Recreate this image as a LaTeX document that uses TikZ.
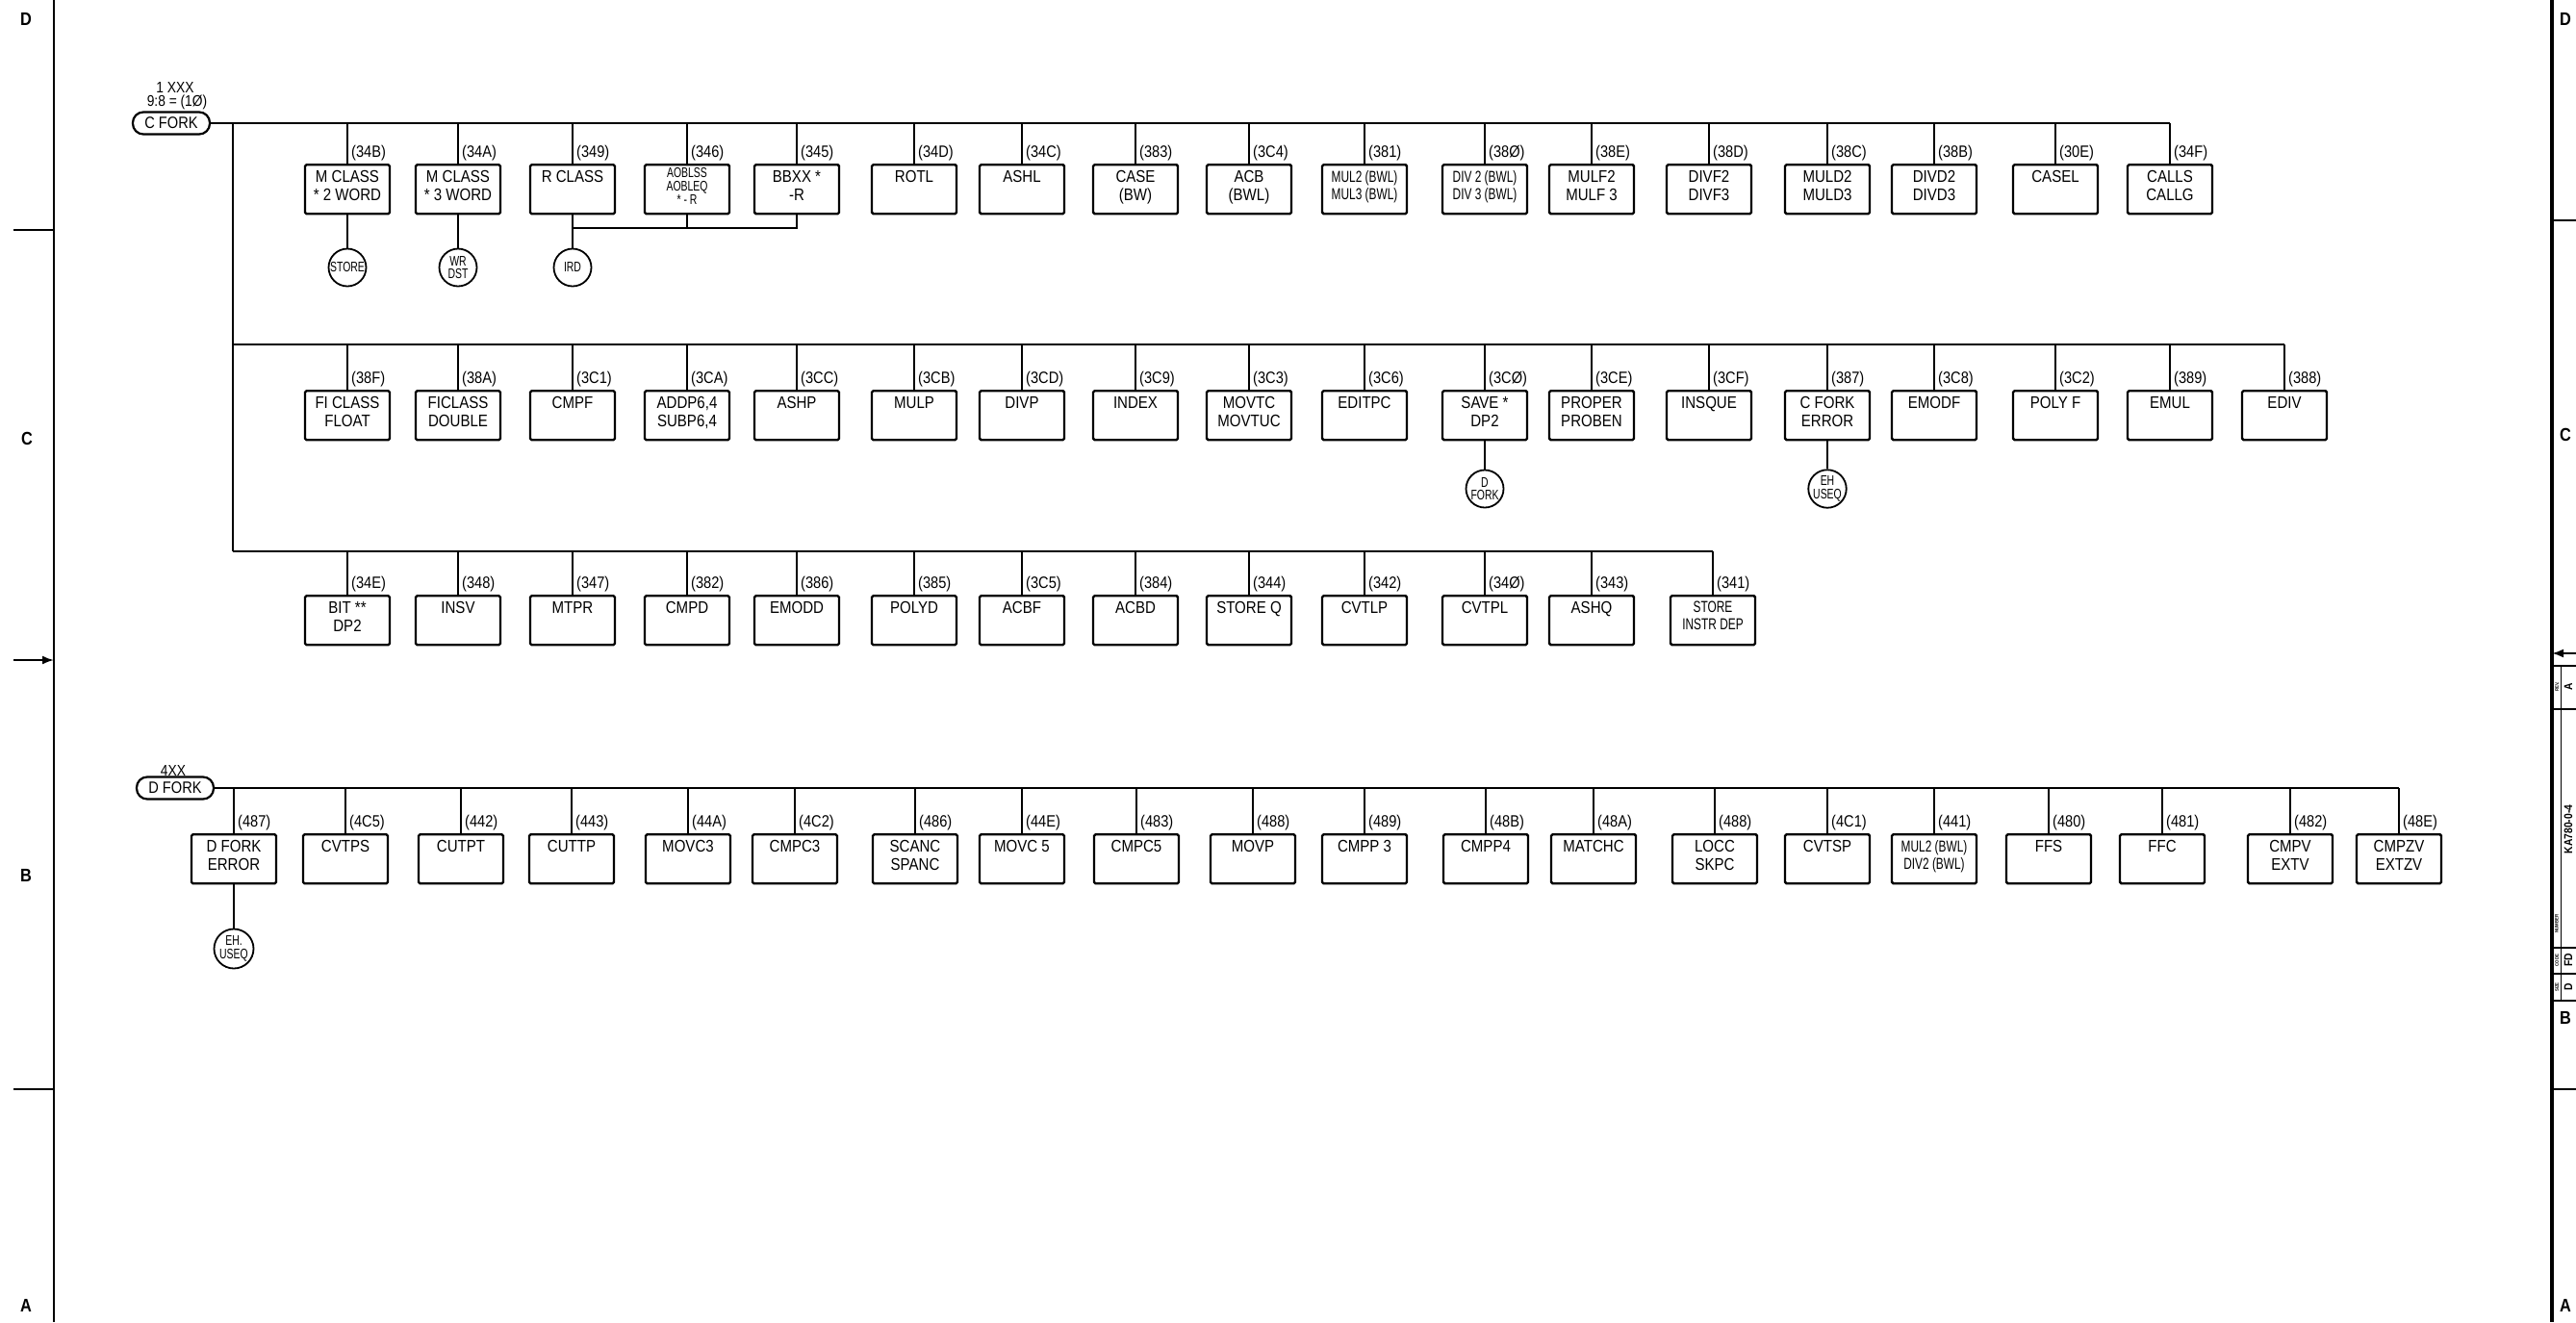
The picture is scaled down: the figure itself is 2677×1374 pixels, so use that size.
\documentclass[tikz,border=0pt]{standalone}
\usepackage{fontspec}
\setmainfont{Liberation Sans}[FakeStretch=0.86]
\newfontfamily\narrowfont{Liberation Sans}[FakeStretch=0.72]
\usetikzlibrary{arrows.meta}
\tikzset{
  ibox/.style={draw, line width=2.4pt, minimum width=88pt, minimum height=51pt, inner sep=0pt, rounded corners=1.5pt},
  itext/.style={anchor=north, align=center, font=\fontsize{17.5}{19}\selectfont, inner sep=0pt},
  ismall/.style={font=\narrowfont\fontsize{16.5}{18}\selectfont},
  itiny/.style={font=\narrowfont\fontsize{14.5}{14}\selectfont},
  ilab/.style={anchor=south west, font=\fontsize{17}{18}\selectfont, inner sep=0pt},
  dropline/.style={line width=1.7pt},
  busline/.style={line width=2.8pt},
  term/.style={draw, circle, line width=1.8pt, minimum size=39pt, inner sep=0pt, align=center, font=\narrowfont\fontsize{14.5}{13.5}\selectfont},
  fork/.style={draw, rounded corners=11pt, line width=2.2pt, minimum width=80pt, minimum height=23pt, inner sep=0pt, font=\fontsize{17}{16}\selectfont},
  frame/.style={line width=2pt},
  gridletter/.style={font=\fontsize{19}{19}\selectfont\bfseries, inner sep=0pt},
  tbcap/.style={font=\fontsize{5}{5}\selectfont\bfseries, inner sep=0pt, rotate=90},
  tbtext/.style={font=\fontsize{12}{12}\selectfont\bfseries, inner sep=0pt, rotate=90},
}
% #1 name, #2 x, #3 top, #4 bus coordinate, #5 label, #6 text, #7 extra text style
\newcommand\opbox[7]{%
  \node[ibox, anchor=north] (#1) at (#2,#3) {};
  \node[itext,#7] (#1t) at ([yshift=-7pt]#1.north) {#6};
  \node[ilab] (#1l) at ([xshift=4pt,yshift=3pt]#1.north) {#5};
  \draw[dropline] (#1.north) -- (#1.north |- #4);
}
\begin{document}
\begin{tikzpicture}[x=1pt,y=-1pt]
\useasboundingbox (0,0) rectangle (2677,1374);
% ---- frame ----
\draw[frame] (56,0) -- (56,1374);
\draw[line width=3.5pt] (2652,0) -- (2652,1374);
\draw[frame] (14,239) -- (56,239);
\draw[frame] (14,1132) -- (56,1132);
\draw[frame,-{Latex[length=12pt,width=9pt]}] (14,686) -- (56,686);
\draw[frame] (2652,229) -- (2677,229);
\draw[frame] (2652,1132) -- (2677,1132);
\draw[frame,-{Latex[length=12pt,width=9pt]}] (2677,679) -- (2652,679);
\node[gridletter] (lD) at (27,20) {D};
\node[gridletter] (lC) at (28,456) {C};
\node[gridletter] (lB) at (27,910) {B};
\node[gridletter] (lA) at (27,1357) {A};
\node[gridletter] (rD) at (2666,20) {D};
\node[gridletter] (rC) at (2666,452) {C};
\node[gridletter] (rB) at (2666,1058) {B};
\node[gridletter] (rA) at (2666,1357) {A};
% title block
\draw[frame] (2652,692) -- (2677,692);
\draw[frame] (2652,737) -- (2677,737);
\draw[frame] (2652,985) -- (2677,985);
\draw[frame] (2652,1012) -- (2677,1012);
\draw[frame] (2652,1040) -- (2677,1040);
\draw[line width=1pt] (2661,692) -- (2661,1040);
\node[tbcap] (tbrev) at (2657,714) {REV.};
\node[tbtext] (tbreva) at (2669,714) {A};
\node[tbcap] (tbnum) at (2657,960) {NUMBER};
\node[tbtext] (tbnumt) at (2669,862) {KA780-0-4};
\node[tbcap] (tbcode) at (2657,998) {CODE};
\node[tbtext] (tbcodet) at (2669,998) {FD};
\node[tbcap] (tbsize) at (2657,1026) {SIZE};
\node[tbtext] (tbsizet) at (2669,1026) {D};

% ---- C FORK tree ----
\node[fork] (cfork) at (178,128) {C FORK};
\node[font=\fontsize{16}{16}\selectfont, inner sep=0pt] (h1) at (182,91) {1 XXX};
\node[font=\fontsize{16}{16}\selectfont, inner sep=0pt] (h2) at (184,106) {9:8 = (1Ø)};
\coordinate (bus1) at (242,123);
\coordinate (bus1e) at (2255,120);
\draw[busline] (cfork.east) -- (bus1e |- cfork.east);
\coordinate (bus2) at (242,358);
\coordinate (bus3) at (242,573);
\draw[busline] (bus1 |- cfork.east) -- (bus3);
\draw[busline] (bus2) -- (2374,358);
\draw[busline] (bus3) -- (1780,573);

% row 1
\opbox{a1}{361}{170}{cfork.east}{(34B)}{M CLASS\\* 2 WORD}{}
\opbox{a2}{476}{170}{cfork.east}{(34A)}{M CLASS\\* 3 WORD}{}
\opbox{a3}{595}{170}{cfork.east}{(349)}{R CLASS}{}
\opbox{a4}{714}{170}{cfork.east}{(346)}{AOBLSS\\AOBLEQ\\* - R}{itiny, yshift=3pt}
\opbox{a5}{828}{170}{cfork.east}{(345)}{BBXX *\\-R}{}
\opbox{a6}{950}{170}{cfork.east}{(34D)}{ROTL}{}
\opbox{a7}{1062}{170}{cfork.east}{(34C)}{ASHL}{}
\opbox{a8}{1180}{170}{cfork.east}{(383)}{CASE\\(BW)}{}
\opbox{a9}{1298}{170}{cfork.east}{(3C4)}{ACB\\(BWL)}{}
\opbox{a10}{1418}{170}{cfork.east}{(381)}{MUL2 (BWL)\\MUL3 (BWL)}{ismall}
\opbox{a11}{1543}{170}{cfork.east}{(38Ø)}{DIV 2 (BWL)\\DIV 3 (BWL)}{ismall}
\opbox{a12}{1654}{170}{cfork.east}{(38E)}{MULF2\\MULF 3}{}
\opbox{a13}{1776}{170}{cfork.east}{(38D)}{DIVF2\\DIVF3}{}
\opbox{a14}{1899}{170}{cfork.east}{(38C)}{MULD2\\MULD3}{}
\opbox{a15}{2010}{170}{cfork.east}{(38B)}{DIVD2\\DIVD3}{}
\opbox{a16}{2136}{170}{cfork.east}{(30E)}{CASEL}{}
\opbox{a17}{2255}{170}{cfork.east}{(34F)}{CALLS\\CALLG}{}

\node[term] (store) at (361,278) {STORE};
\node[term] (wrdst) at (476,278) {WR\\DST};
\node[term] (ird) at (595,278) {IRD};
\draw[dropline] (a1.south) -- (store.north);
\draw[dropline] (a2.south) -- (wrdst.north);
\draw[dropline] (a3.south) -- (ird.north);
\coordinate (j1) at (595,237);
\coordinate (j2) at (828,237);
\draw[dropline] (a4.south) -- (a4.south |- j1);
\draw[dropline] (a5.south) -- (j2) -- (j1);

% row 2
\opbox{b1}{361}{405}{bus2}{(38F)}{FI CLASS\\FLOAT}{}
\opbox{b2}{476}{405}{bus2}{(38A)}{FICLASS\\DOUBLE}{}
\opbox{b3}{595}{405}{bus2}{(3C1)}{CMPF}{}
\opbox{b4}{714}{405}{bus2}{(3CA)}{ADDP6,4\\SUBP6,4}{}
\opbox{b5}{828}{405}{bus2}{(3CC)}{ASHP}{}
\opbox{b6}{950}{405}{bus2}{(3CB)}{MULP}{}
\opbox{b7}{1062}{405}{bus2}{(3CD)}{DIVP}{}
\opbox{b8}{1180}{405}{bus2}{(3C9)}{INDEX}{}
\opbox{b9}{1298}{405}{bus2}{(3C3)}{MOVTC\\MOVTUC}{}
\opbox{b10}{1418}{405}{bus2}{(3C6)}{EDITPC}{}
\opbox{b11}{1543}{405}{bus2}{(3CØ)}{SAVE *\\DP2}{}
\opbox{b12}{1654}{405}{bus2}{(3CE)}{PROPER\\PROBEN}{}
\opbox{b13}{1776}{405}{bus2}{(3CF)}{INSQUE}{}
\opbox{b14}{1899}{405}{bus2}{(387)}{C FORK\\ERROR}{}
\opbox{b15}{2010}{405}{bus2}{(3C8)}{EMODF}{}
\opbox{b16}{2136}{405}{bus2}{(3C2)}{POLY F}{}
\opbox{b17}{2255}{405}{bus2}{(389)}{EMUL}{}
\opbox{b18}{2374}{405}{bus2}{(388)}{EDIV}{}

\node[term] (dfk) at (1543,508) {D\\FORK};
\node[term] (ehu1) at (1899,508) {EH\\USEQ};
\draw[dropline] (b11.south) -- (dfk.north);
\draw[dropline] (b14.south) -- (ehu1.north);

% row 3
\opbox{c1}{361}{618}{bus3}{(34E)}{BIT **\\DP2}{}
\opbox{c2}{476}{618}{bus3}{(348)}{INSV}{}
\opbox{c3}{595}{618}{bus3}{(347)}{MTPR}{}
\opbox{c4}{714}{618}{bus3}{(382)}{CMPD}{}
\opbox{c5}{828}{618}{bus3}{(386)}{EMODD}{}
\opbox{c6}{950}{618}{bus3}{(385)}{POLYD}{}
\opbox{c7}{1062}{618}{bus3}{(3C5)}{ACBF}{}
\opbox{c8}{1180}{618}{bus3}{(384)}{ACBD}{}
\opbox{c9}{1298}{618}{bus3}{(344)}{STORE Q}{}
\opbox{c10}{1418}{618}{bus3}{(342)}{CVTLP}{}
\opbox{c11}{1543}{618}{bus3}{(34Ø)}{CVTPL}{}
\opbox{c12}{1654}{618}{bus3}{(343)}{ASHQ}{}
\opbox{c13}{1780}{618}{bus3}{(341)}{STORE\\INSTR DEP}{ismall}

% ---- D FORK tree ----
\node[fork] (dfork) at (182,819) {D FORK};
\node[font=\fontsize{16}{16}\selectfont, inner sep=0pt] (h3) at (180,801) {4XX};
\coordinate (bus4e) at (2493,815);
\draw[busline] (dfork.east) -- (bus4e |- dfork.east);
\opbox{d0}{243}{866}{dfork.east}{(487)}{D FORK\\ERROR}{}
\opbox{d1}{359}{866}{dfork.east}{(4C5)}{CVTPS}{}
\opbox{d2}{479}{866}{dfork.east}{(442)}{CUTPT}{}
\opbox{d3}{594}{866}{dfork.east}{(443)}{CUTTP}{}
\opbox{d4}{715}{866}{dfork.east}{(44A)}{MOVC3}{}
\opbox{d5}{826}{866}{dfork.east}{(4C2)}{CMPC3}{}
\opbox{d6}{951}{866}{dfork.east}{(486)}{SCANC\\SPANC}{}
\opbox{d7}{1062}{866}{dfork.east}{(44E)}{MOVC 5}{}
\opbox{d8}{1181}{866}{dfork.east}{(483)}{CMPC5}{}
\opbox{d9}{1302}{866}{dfork.east}{(488)}{MOVP}{}
\opbox{d10}{1418}{866}{dfork.east}{(489)}{CMPP 3}{}
\opbox{d11}{1544}{866}{dfork.east}{(48B)}{CMPP4}{}
\opbox{d12}{1656}{866}{dfork.east}{(48A)}{MATCHC}{}
\opbox{d13}{1782}{866}{dfork.east}{(488)}{LOCC\\SKPC}{}
\opbox{d14}{1899}{866}{dfork.east}{(4C1)}{CVTSP}{}
\opbox{d15}{2010}{866}{dfork.east}{(441)}{MUL2 (BWL)\\DIV2 (BWL)}{ismall}
\opbox{d16}{2129}{866}{dfork.east}{(480)}{FFS}{}
\opbox{d17}{2247}{866}{dfork.east}{(481)}{FFC}{}
\opbox{d18}{2380}{866}{dfork.east}{(482)}{CMPV\\EXTV}{}
\opbox{d19}{2493}{866}{dfork.east}{(48E)}{CMPZV\\EXTZV}{}

\node[term, minimum size=41pt] (ehu2) at (243,986) {EH.\\USEQ};
\draw[dropline] (d0.south) -- (ehu2.north);
\end{tikzpicture}
\end{document}
